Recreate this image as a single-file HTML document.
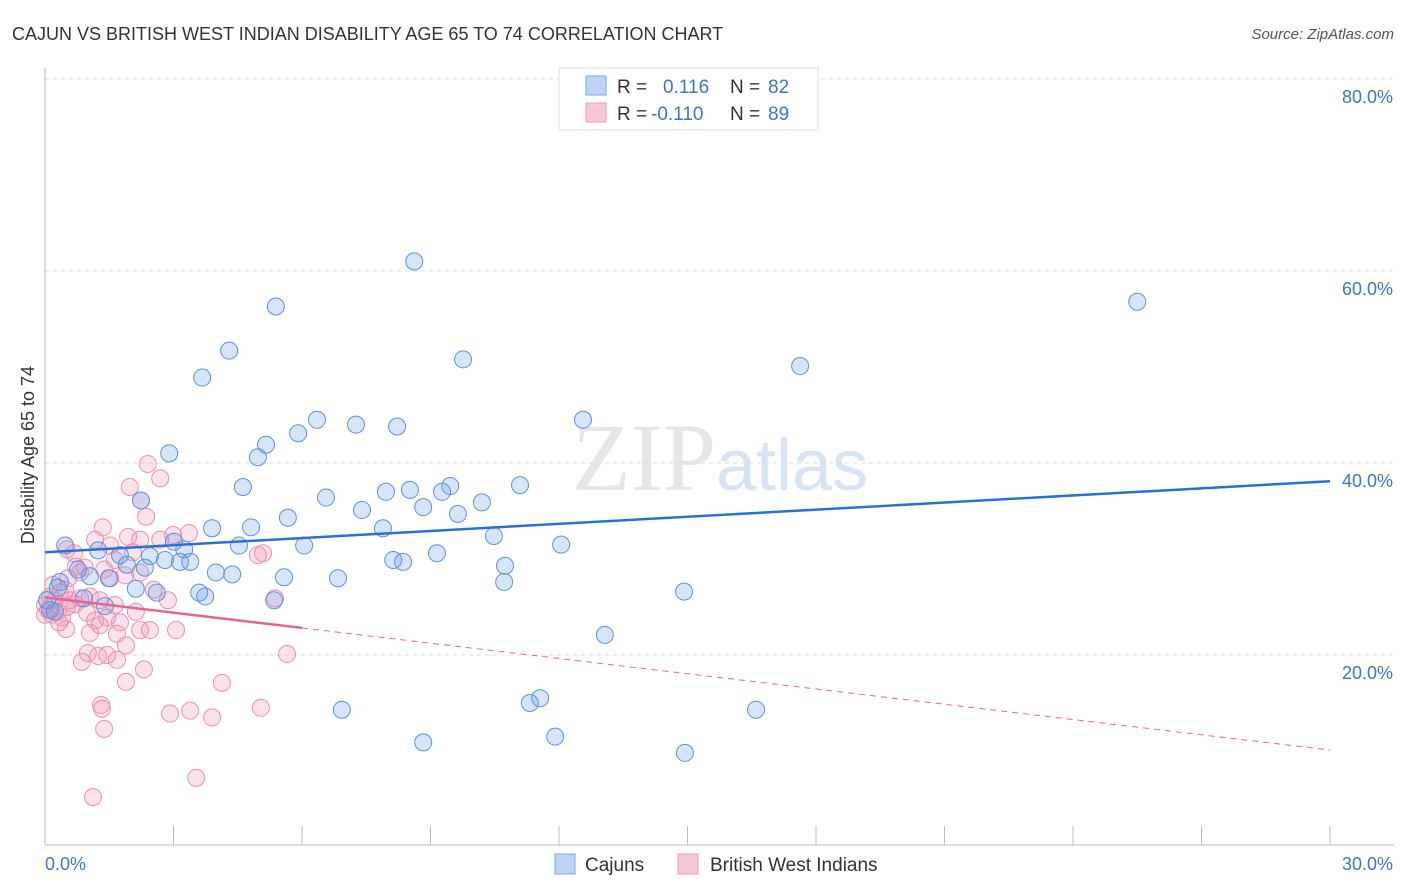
<!DOCTYPE html>
<html><head><meta charset="utf-8"><style>
body{margin:0;background:#fff;font-family:"Liberation Sans",sans-serif;}
svg{display:block}
</style></head><body>
<svg id="chart" width="1406" height="892">
<text x="12" y="40" font-size="18" fill="#333">CAJUN VS BRITISH WEST INDIAN DISABILITY AGE 65 TO 74 CORRELATION CHART</text>
<text x="1394" y="39" font-size="15" fill="#555" font-style="italic" text-anchor="end">Source: ZipAtlas.com</text>
<text x="720" y="490" font-size="96" fill="#e6e6e6" text-anchor="middle" font-family="Liberation Serif,serif">ZIP<tspan fill="#d6e4f5" font-family="Liberation Sans,sans-serif" font-size="72">atlas</tspan></text>
<g id="grid"></g><g id="axes"></g><g id="marks"></g><g id="lines"></g>
<text x="34" y="455" font-size="18" fill="#333" text-anchor="middle" transform="rotate(-90 34 455)">Disability Age 65 to 74</text>
<g>
<rect x="559" y="68" width="259" height="62" fill="#fff" stroke="#ddd"/>
<rect x="586" y="76" width="20" height="19" fill="#bcd4f5" stroke="#7ea6e0"/>
<rect x="586" y="103" width="20" height="19" fill="#f9c8d6" stroke="#eb9bb4"/>
<text x="617" y="93" font-size="19" fill="#333">R =</text><text x="663" y="93" font-size="19" fill="#3a75d0">0.116</text>
<text x="730" y="93" font-size="19" fill="#333">N =</text><text x="768" y="93" font-size="19" fill="#3a75d0">82</text>
<text x="617" y="120" font-size="19" fill="#333">R =</text><text x="651" y="120" font-size="19" fill="#3a75d0">-0.110</text>
<text x="730" y="120" font-size="19" fill="#333">N =</text><text x="768" y="120" font-size="19" fill="#3a75d0">89</text>
</g>
<g>
<rect x="555" y="854" width="20" height="20" fill="#bcd4f5" stroke="#7ea6e0"/>
<text x="585" y="871" font-size="19" fill="#333">Cajuns</text>
<rect x="678" y="854" width="20" height="20" fill="#f9c8d6" stroke="#eb9bb4"/>
<text x="710" y="871" font-size="19" fill="#333">British West Indians</text>
</g>
</svg>
<script>
const xTicks=[0,3,6,9,12,15,18,21,24,27,30];
const yTicks=[20,40,60,80];
const yTickLabels=["20.0%","40.0%","60.0%","80.0%"];
const blueX=[8.62,5.39,25.5,4.30,9.76,3.67,17.63,6.35,7.26,5.16,5.91,8.22,12.56,4.97,2.90,4.62,2.24,6.56,11.09,9.46,8.52,7.96,9.27,7.40,8.83,10.20,9.64,3.90,4.81,5.67,7.89,10.48,12.05,3.01,4.53,3.25,6.05,0.47,1.24,1.75,2.45,9.15,8.13,8.36,2.80,3.15,3.39,1.91,2.33,3.99,4.37,5.58,6.84,10.74,10.72,1.05,1.49,0.35,2.61,2.12,3.60,3.74,5.35,14.92,1.40,13.07,6.93,11.32,11.56,16.60,8.83,11.91,14.94,0.77,0.30,0.12,0.23,0.05,0.91];
const blueY=[61.0,56.3,56.8,51.7,50.8,48.9,50.1,44.5,44.0,41.9,43.1,43.8,44.5,40.6,41.0,37.5,36.1,36.4,37.7,37.6,37.2,37.0,37.0,35.1,35.4,35.9,34.7,33.2,33.3,34.3,33.2,32.4,31.5,31.8,31.4,31.0,31.4,31.4,30.9,30.4,30.3,30.6,29.9,29.7,29.9,29.7,29.7,29.4,29.1,28.6,28.4,28.1,28.0,29.3,27.6,28.2,28.0,27.6,26.5,26.9,26.5,26.1,25.7,26.6,25.1,22.1,14.3,15.0,15.5,14.3,10.9,11.5,9.8,28.9,27.0,24.7,24.5,25.7,25.9];
const pinkX=[2.40,2.69,1.98,2.24,2.36,3.36,1.17,1.52,1.94,2.22,2.69,2.99,0.51,0.68,4.97,5.09,2.05,1.63,1.38,0.72,0.82,0.93,1.52,1.87,2.22,0.12,0.23,0.35,0.47,0.58,0.70,0.82,1.05,1.28,1.63,0.07,0.16,0.30,0.40,0.51,0.98,1.17,1.28,1.45,1.75,2.12,2.54,2.87,5.37,0.49,1.05,1.68,2.22,3.06,1.00,1.24,1.45,1.68,0.86,1.89,2.31,5.65,4.13,1.89,1.31,1.33,1.38,2.92,3.39,3.90,5.04,3.53,1.12,0.33,0.0,0.0,0.19,0.54,2.45,1.35];
const pinkY=[39.9,38.4,37.5,36.1,34.4,32.7,32.0,31.4,32.3,32.0,32.0,32.5,31.0,30.6,30.4,30.6,30.7,29.9,28.9,29.2,28.6,29.1,28.0,28.3,28.6,26.1,25.7,26.5,26.8,25.7,25.3,25.9,26.1,25.7,25.2,24.7,24.2,24.5,23.9,25.0,24.4,23.6,23.1,23.9,23.4,24.5,26.8,25.7,25.9,22.7,22.3,22.2,22.6,22.6,20.2,19.9,20.0,19.5,19.3,21.0,18.5,20.1,17.1,17.2,14.8,14.4,12.3,13.9,14.2,13.5,14.5,7.2,5.2,23.4,25.2,24.2,27.3,28.0,22.6,33.3];
const blueTrend=[30.7,38.1];
const pinkTrend=[26.0,10.1];
const pinkSolidEnd=6;

const X0=45,X1=1330,Y0=847,PX=9.6;
const sx=v=>X0+(X1-X0)*v/30;
const sy=v=>Y0-v*PX;
const NS="http://www.w3.org/2000/svg";
function mk(tag,attrs,parent){const e=document.createElementNS(NS,tag);for(const k in attrs)e.setAttribute(k,attrs[k]);parent.appendChild(e);return e;}
const grid=document.getElementById('grid'),axes=document.getElementById('axes'),marks=document.getElementById('marks'),lines=document.getElementById('lines');
yTicks.forEach((t,i)=>{
 const l=mk('line',{x1:X0,x2:1394,y1:sy(t),y2:sy(t),stroke:'#ddd','stroke-dasharray':'4,4'},grid);
 
 
 const tx=mk('text',{x:1393,y:sy(t)+24,'font-size':18,fill:'#3a75d0','text-anchor':'end'},axes);
 tx.textContent=yTickLabels[i];
 
 
});
const ax=mk('line',{x1:X0,x2:1394,y1:845,y2:845,stroke:'#bbb'},axes);


const ay=mk('line',{x1:X0,x2:X0,y1:68,y2:845,stroke:'#bbb'},axes);


xTicks.forEach(t=>{
 const l=mk('line',{x1:sx(t),x2:sx(t),y1:826,y2:845,stroke:'#bbb'},axes);
 
 
});
const xl0=mk('text',{x:45,y:870,'font-size':18,fill:'#3a75d0'},axes);xl0.textContent='0.0%';


const xl1=mk('text',{x:1393,y:870,'font-size':18,fill:'#3a75d0','text-anchor':'end'},axes);xl1.textContent='30.0%';


pinkX.forEach((v,i)=>{
 const c=mk('circle',{cx:sx(v),cy:sy(pinkY[i]),r:8.5,fill:'rgba(244,150,180,0.28)',stroke:'#ec8fae','stroke-width':1},marks);
 
 
});
blueX.forEach((v,i)=>{
 const c=mk('circle',{cx:sx(v),cy:sy(blueY[i]),r:8.5,fill:'rgba(110,160,235,0.28)',stroke:'#5d91e0','stroke-width':1},marks);
 
 
});
const bl=mk('line',{x1:sx(0),y1:sy(blueTrend[0]),x2:sx(30),y2:sy(blueTrend[1]),stroke:'#2a6fd6','stroke-width':2.5},lines);


const pm=pinkTrend[0]+(pinkTrend[1]-pinkTrend[0])*pinkSolidEnd/30;
const pl=mk('line',{x1:sx(0),y1:sy(pinkTrend[0]),x2:sx(pinkSolidEnd),y2:sy(pm),stroke:'#e8648f','stroke-width':2.5},lines);


const pd=mk('line',{x1:sx(pinkSolidEnd),y1:sy(pm),x2:sx(30),y2:sy(pinkTrend[1]),stroke:'#e8648f','stroke-width':1,'stroke-dasharray':'6,5'},lines);


</script>
</body></html>
